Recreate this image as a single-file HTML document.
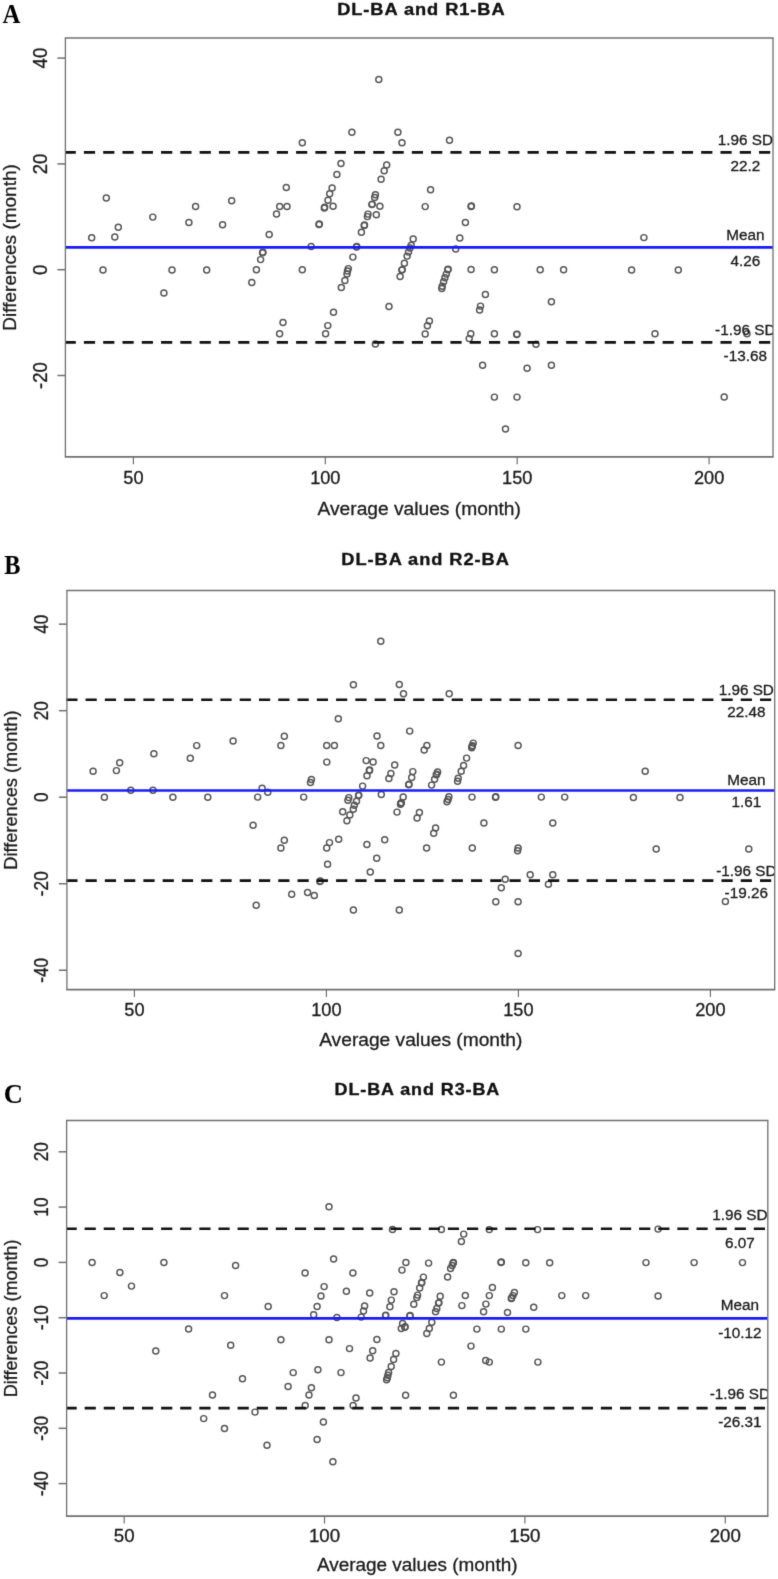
<!DOCTYPE html><html><head><meta charset="utf-8"><title>Bland-Altman plots</title><style>html,body{margin:0;padding:0;background:#fff;}svg{display:block;}text{font-family:'Liberation Sans', sans-serif;}</style></head><body>
<svg width="778" height="1579" viewBox="0 0 778 1579">
<defs><filter id="soft" x="0" y="0" width="100%" height="100%" filterUnits="userSpaceOnUse" color-interpolation-filters="sRGB"><feConvolveMatrix order="3" kernelMatrix="0.01134 0.08382 0.01134 0.08382 0.61935 0.08382 0.01134 0.08382 0.01134" divisor="1" edgeMode="duplicate" preserveAlpha="false"/></filter></defs>
<rect width="778" height="1579" fill="#fff"/>
<g filter="url(#soft)">
<clipPath id="c0"><rect x="65.4" y="38" width="707.6" height="418.8"/></clipPath>
<text transform="translate(2.4,22.8) scale(0.92,1)" style="font-family:'Liberation Serif',serif;font-weight:bold;font-size:27px" fill="#000">A</text>
<text transform="translate(338,15.2) scale(1.1,1)" x="-0.8" y="0" style="font-weight:bold;font-size:16.6px;letter-spacing:0.85px" fill="#111" stroke="#111" stroke-width="0.35">DL-BA and R1-BA</text>
<g fill="none" stroke="#555" stroke-width="1.45" clip-path="url(#c0)">
<circle cx="106.3" cy="197.9" r="3.0"/>
<circle cx="91.7" cy="237.7" r="3.0"/>
<circle cx="118.3" cy="227.3" r="3.0"/>
<circle cx="114.8" cy="237" r="3.0"/>
<circle cx="103" cy="269.9" r="3.0"/>
<circle cx="152.8" cy="217.1" r="3.0"/>
<circle cx="188.9" cy="222.4" r="3.0"/>
<circle cx="195.6" cy="206.5" r="3.0"/>
<circle cx="222.6" cy="224.7" r="3.0"/>
<circle cx="231.7" cy="200.7" r="3.0"/>
<circle cx="172" cy="269.9" r="3.0"/>
<circle cx="206.7" cy="269.9" r="3.0"/>
<circle cx="163.9" cy="293" r="3.0"/>
<circle cx="378.8" cy="79.4" r="3.0"/>
<circle cx="351.9" cy="132.2" r="3.0"/>
<circle cx="302.3" cy="142.7" r="3.0"/>
<circle cx="341" cy="163.5" r="3.0"/>
<circle cx="336.9" cy="174.5" r="3.0"/>
<circle cx="286.3" cy="187.5" r="3.0"/>
<circle cx="332.1" cy="188" r="3.0"/>
<circle cx="329.7" cy="193.8" r="3.0"/>
<circle cx="328" cy="200.2" r="3.0"/>
<circle cx="324.7" cy="207.3" r="3.0"/>
<circle cx="324.3" cy="207.9" r="3.0"/>
<circle cx="333.1" cy="206.3" r="3.0"/>
<circle cx="319.3" cy="224" r="3.0"/>
<circle cx="319" cy="224.5" r="3.0"/>
<circle cx="279.7" cy="206.5" r="3.0"/>
<circle cx="287" cy="206.5" r="3.0"/>
<circle cx="276.5" cy="213.9" r="3.0"/>
<circle cx="269.2" cy="234.4" r="3.0"/>
<circle cx="262.9" cy="252.3" r="3.0"/>
<circle cx="262.6" cy="252.8" r="3.0"/>
<circle cx="260.6" cy="259.6" r="3.0"/>
<circle cx="256.4" cy="269.7" r="3.0"/>
<circle cx="251.8" cy="282.5" r="3.0"/>
<circle cx="311.1" cy="246.4" r="3.0"/>
<circle cx="302.3" cy="269.7" r="3.0"/>
<circle cx="356.8" cy="246.4" r="3.0"/>
<circle cx="356.5" cy="246.9" r="3.0"/>
<circle cx="361.4" cy="232.2" r="3.0"/>
<circle cx="352.9" cy="257.1" r="3.0"/>
<circle cx="348.3" cy="268.6" r="3.0"/>
<circle cx="347.5" cy="270.9" r="3.0"/>
<circle cx="347" cy="274" r="3.0"/>
<circle cx="344.9" cy="280.4" r="3.0"/>
<circle cx="341.3" cy="287.4" r="3.0"/>
<circle cx="333.5" cy="312.2" r="3.0"/>
<circle cx="283" cy="322.5" r="3.0"/>
<circle cx="327.8" cy="325.6" r="3.0"/>
<circle cx="279.6" cy="333.8" r="3.0"/>
<circle cx="325.6" cy="333.8" r="3.0"/>
<circle cx="397.9" cy="132.2" r="3.0"/>
<circle cx="402" cy="142.8" r="3.0"/>
<circle cx="449.5" cy="140.2" r="3.0"/>
<circle cx="386.7" cy="164.9" r="3.0"/>
<circle cx="384.2" cy="170.8" r="3.0"/>
<circle cx="381.1" cy="179.2" r="3.0"/>
<circle cx="375.4" cy="194.8" r="3.0"/>
<circle cx="374.7" cy="197.4" r="3.0"/>
<circle cx="372.2" cy="204.1" r="3.0"/>
<circle cx="371.9" cy="204.6" r="3.0"/>
<circle cx="379.9" cy="206.3" r="3.0"/>
<circle cx="376.3" cy="214.7" r="3.0"/>
<circle cx="368" cy="214.1" r="3.0"/>
<circle cx="367.4" cy="216.6" r="3.0"/>
<circle cx="364.5" cy="225" r="3.0"/>
<circle cx="364.2" cy="225.5" r="3.0"/>
<circle cx="430.6" cy="189.7" r="3.0"/>
<circle cx="425.2" cy="206.6" r="3.0"/>
<circle cx="471.4" cy="205.9" r="3.0"/>
<circle cx="471.1" cy="206.4" r="3.0"/>
<circle cx="465.4" cy="222.4" r="3.0"/>
<circle cx="459.8" cy="237.9" r="3.0"/>
<circle cx="455.7" cy="248.9" r="3.0"/>
<circle cx="413.2" cy="239" r="3.0"/>
<circle cx="411.2" cy="245.3" r="3.0"/>
<circle cx="410" cy="248" r="3.0"/>
<circle cx="408.5" cy="252.1" r="3.0"/>
<circle cx="407.1" cy="256.1" r="3.0"/>
<circle cx="404.4" cy="263.3" r="3.0"/>
<circle cx="402.2" cy="269.6" r="3.0"/>
<circle cx="401.9" cy="270.1" r="3.0"/>
<circle cx="400.1" cy="276.4" r="3.0"/>
<circle cx="448.1" cy="269.2" r="3.0"/>
<circle cx="447.8" cy="269.7" r="3.0"/>
<circle cx="446.3" cy="274.1" r="3.0"/>
<circle cx="444.9" cy="277.7" r="3.0"/>
<circle cx="443.6" cy="281.8" r="3.0"/>
<circle cx="442.2" cy="286.3" r="3.0"/>
<circle cx="441.8" cy="288.5" r="3.0"/>
<circle cx="471.1" cy="269.5" r="3.0"/>
<circle cx="389" cy="306.5" r="3.0"/>
<circle cx="429.4" cy="320.9" r="3.0"/>
<circle cx="427.4" cy="325.8" r="3.0"/>
<circle cx="425.2" cy="334" r="3.0"/>
<circle cx="375.4" cy="344" r="3.0"/>
<circle cx="470.8" cy="333.7" r="3.0"/>
<circle cx="469.2" cy="338.6" r="3.0"/>
<circle cx="480.5" cy="306.1" r="3.0"/>
<circle cx="479.6" cy="309.9" r="3.0"/>
<circle cx="517" cy="206.7" r="3.0"/>
<circle cx="494.4" cy="269.7" r="3.0"/>
<circle cx="540.2" cy="269.7" r="3.0"/>
<circle cx="563.6" cy="269.7" r="3.0"/>
<circle cx="485.4" cy="294.5" r="3.0"/>
<circle cx="551.4" cy="301.8" r="3.0"/>
<circle cx="494.4" cy="333.8" r="3.0"/>
<circle cx="517" cy="334.1" r="3.0"/>
<circle cx="516.7" cy="334.5" r="3.0"/>
<circle cx="536" cy="344.3" r="3.0"/>
<circle cx="482.6" cy="365.2" r="3.0"/>
<circle cx="527.1" cy="368.3" r="3.0"/>
<circle cx="551.4" cy="365.2" r="3.0"/>
<circle cx="494.4" cy="397.1" r="3.0"/>
<circle cx="517" cy="397.1" r="3.0"/>
<circle cx="505.5" cy="429" r="3.0"/>
<circle cx="643.9" cy="237.6" r="3.0"/>
<circle cx="631.6" cy="270" r="3.0"/>
<circle cx="678.3" cy="270" r="3.0"/>
<circle cx="655" cy="333.8" r="3.0"/>
<circle cx="747" cy="333.8" r="3.0"/>
<circle cx="724.2" cy="397" r="3.0"/>
</g>
<line x1="64.6" y1="152.35" x2="773" y2="152.35" stroke="#111" stroke-width="2.7" stroke-dasharray="11.2 8.09" clip-path="url(#c0)"/>
<g clip-path="url(#c0)"><text transform="translate(745.3,144.75) scale(1,1.0)" text-anchor="middle" style="font-size:15.3px" fill="#1a1a1a" stroke="#1a1a1a" stroke-width="0.3">1.96 SD</text></g>
<g clip-path="url(#c0)"><text transform="translate(745.3,171.15) scale(1,1.0)" text-anchor="middle" style="font-size:15.3px" fill="#1a1a1a" stroke="#1a1a1a" stroke-width="0.3">22.2</text></g>
<line x1="65.4" y1="247.4" x2="773" y2="247.4" stroke="#1a1aff" stroke-width="2.6"/>
<g clip-path="url(#c0)"><text transform="translate(745.3,239.8) scale(1,1.0)" text-anchor="middle" style="font-size:15.3px" fill="#1a1a1a" stroke="#1a1a1a" stroke-width="0.3">Mean</text></g>
<g clip-path="url(#c0)"><text transform="translate(745.3,266.2) scale(1,1.0)" text-anchor="middle" style="font-size:15.3px" fill="#1a1a1a" stroke="#1a1a1a" stroke-width="0.3">4.26</text></g>
<line x1="64.6" y1="342.4" x2="773" y2="342.4" stroke="#111" stroke-width="2.7" stroke-dasharray="11.2 8.09" clip-path="url(#c0)"/>
<g clip-path="url(#c0)"><text transform="translate(745.3,334.8) scale(1,1.0)" text-anchor="middle" style="font-size:15.3px" fill="#1a1a1a" stroke="#1a1a1a" stroke-width="0.3">-1.96 SD</text></g>
<g clip-path="url(#c0)"><text transform="translate(745.3,361.2) scale(1,1.0)" text-anchor="middle" style="font-size:15.3px" fill="#1a1a1a" stroke="#1a1a1a" stroke-width="0.3">-13.68</text></g>
<g stroke="#707070" fill="none">
<line x1="64.8" y1="38" x2="773.6" y2="38" stroke-width="1.7"/>
<line x1="64.8" y1="456.8" x2="773.6" y2="456.8" stroke-width="1.7"/>
<line x1="65.4" y1="38" x2="65.4" y2="456.8" stroke-width="1.3"/>
<line x1="773" y1="38" x2="773" y2="456.8" stroke-width="1.3"/>
<line x1="57.4" y1="58.1" x2="65.4" y2="58.1" stroke-width="1.5"/>
<line x1="57.4" y1="163.9" x2="65.4" y2="163.9" stroke-width="1.5"/>
<line x1="57.4" y1="269.7" x2="65.4" y2="269.7" stroke-width="1.5"/>
<line x1="57.4" y1="375.5" x2="65.4" y2="375.5" stroke-width="1.5"/>
<line x1="133.4" y1="456.8" x2="133.4" y2="464.3" stroke-width="1.2"/>
<line x1="325.3" y1="456.8" x2="325.3" y2="464.3" stroke-width="1.2"/>
<line x1="517.2" y1="456.8" x2="517.2" y2="464.3" stroke-width="1.2"/>
<line x1="709.1" y1="456.8" x2="709.1" y2="464.3" stroke-width="1.2"/>
</g>
<text transform="translate(46.9,58.1) rotate(-90) scale(1.04,1.08)" text-anchor="middle" style="font-size:17.9px" fill="#1a1a1a" stroke="#1a1a1a" stroke-width="0.3">40</text>
<text transform="translate(46.9,163.9) rotate(-90) scale(1.04,1.08)" text-anchor="middle" style="font-size:17.9px" fill="#1a1a1a" stroke="#1a1a1a" stroke-width="0.3">20</text>
<text transform="translate(46.9,269.7) rotate(-90) scale(1.04,1.08)" text-anchor="middle" style="font-size:17.9px" fill="#1a1a1a" stroke="#1a1a1a" stroke-width="0.3">0</text>
<text transform="translate(46.9,375.5) rotate(-90) scale(1.04,1.08)" text-anchor="middle" style="font-size:17.9px" fill="#1a1a1a" stroke="#1a1a1a" stroke-width="0.3">-20</text>
<text transform="translate(133.4,484.2) scale(1,1.0)" text-anchor="middle" style="font-size:18.2px" fill="#1a1a1a" stroke="#1a1a1a" stroke-width="0.3">50</text>
<text transform="translate(325.3,484.2) scale(1,1.0)" text-anchor="middle" style="font-size:18.2px" fill="#1a1a1a" stroke="#1a1a1a" stroke-width="0.3">100</text>
<text transform="translate(517.2,484.2) scale(1,1.0)" text-anchor="middle" style="font-size:18.2px" fill="#1a1a1a" stroke="#1a1a1a" stroke-width="0.3">150</text>
<text transform="translate(709.1,484.2) scale(1,1.0)" text-anchor="middle" style="font-size:18.2px" fill="#1a1a1a" stroke="#1a1a1a" stroke-width="0.3">200</text>
<text transform="translate(419.2,515.4) scale(1.0,1.0)" text-anchor="middle" style="font-size:19.2px" fill="#1a1a1a" stroke="#1a1a1a" stroke-width="0.3">Average values (month)</text>
<text transform="translate(15.6,247.4) rotate(-90) scale(1.0,1)" text-anchor="middle" style="font-size:19px" fill="#1a1a1a" stroke="#1a1a1a" stroke-width="0.3">Differences (month)</text>
<clipPath id="c1"><rect x="66.9" y="590.5" width="707.8" height="399.1"/></clipPath>
<text transform="translate(4.3,573.6) scale(0.9,1)" style="font-family:'Liberation Serif',serif;font-weight:bold;font-size:27px" fill="#000">B</text>
<text transform="translate(342.2,564.7) scale(1.1,1)" x="-0.8" y="0" style="font-weight:bold;font-size:16.6px;letter-spacing:0.85px" fill="#111" stroke="#111" stroke-width="0.35">DL-BA and R2-BA</text>
<g fill="none" stroke="#555" stroke-width="1.45" clip-path="url(#c1)">
<circle cx="93.1" cy="771.3" r="3.0"/>
<circle cx="104.4" cy="797.2" r="3.0"/>
<circle cx="119.7" cy="762.7" r="3.0"/>
<circle cx="116.4" cy="770.6" r="3.0"/>
<circle cx="130.8" cy="790.2" r="3.0"/>
<circle cx="153.9" cy="753.7" r="3.0"/>
<circle cx="153" cy="790.2" r="3.0"/>
<circle cx="172.9" cy="797.2" r="3.0"/>
<circle cx="190.3" cy="758.3" r="3.0"/>
<circle cx="196.7" cy="745.6" r="3.0"/>
<circle cx="207.8" cy="797.2" r="3.0"/>
<circle cx="233.1" cy="741" r="3.0"/>
<circle cx="353.4" cy="684.8" r="3.0"/>
<circle cx="338.3" cy="718.7" r="3.0"/>
<circle cx="284.3" cy="736.2" r="3.0"/>
<circle cx="280.9" cy="745.4" r="3.0"/>
<circle cx="326.7" cy="745.4" r="3.0"/>
<circle cx="334.4" cy="745.4" r="3.0"/>
<circle cx="326.8" cy="762.1" r="3.0"/>
<circle cx="311.4" cy="779.4" r="3.0"/>
<circle cx="310.5" cy="782.4" r="3.0"/>
<circle cx="262.1" cy="788.3" r="3.0"/>
<circle cx="267.8" cy="792.2" r="3.0"/>
<circle cx="257.7" cy="797.1" r="3.0"/>
<circle cx="303.7" cy="797.1" r="3.0"/>
<circle cx="253.1" cy="825.3" r="3.0"/>
<circle cx="284.3" cy="840.3" r="3.0"/>
<circle cx="280.9" cy="848" r="3.0"/>
<circle cx="329.5" cy="842.6" r="3.0"/>
<circle cx="326.7" cy="848" r="3.0"/>
<circle cx="338.7" cy="839.2" r="3.0"/>
<circle cx="373.1" cy="761.9" r="3.0"/>
<circle cx="366.2" cy="760.6" r="3.0"/>
<circle cx="369.6" cy="770" r="3.0"/>
<circle cx="369.3" cy="770.5" r="3.0"/>
<circle cx="367" cy="775.8" r="3.0"/>
<circle cx="362.6" cy="786.1" r="3.0"/>
<circle cx="358.8" cy="795.1" r="3.0"/>
<circle cx="358.5" cy="795.6" r="3.0"/>
<circle cx="356.5" cy="801.2" r="3.0"/>
<circle cx="354.3" cy="805.3" r="3.0"/>
<circle cx="353.3" cy="809.2" r="3.0"/>
<circle cx="349.8" cy="815" r="3.0"/>
<circle cx="348.8" cy="797.6" r="3.0"/>
<circle cx="347.9" cy="800.2" r="3.0"/>
<circle cx="342.7" cy="811.8" r="3.0"/>
<circle cx="346.9" cy="820.8" r="3.0"/>
<circle cx="381.3" cy="794.4" r="3.0"/>
<circle cx="380.8" cy="641.3" r="3.0"/>
<circle cx="399.3" cy="684.5" r="3.0"/>
<circle cx="403.5" cy="693.7" r="3.0"/>
<circle cx="449.2" cy="693.7" r="3.0"/>
<circle cx="377" cy="736" r="3.0"/>
<circle cx="409.7" cy="731.1" r="3.0"/>
<circle cx="380.8" cy="745.4" r="3.0"/>
<circle cx="426.9" cy="745.4" r="3.0"/>
<circle cx="424.2" cy="750" r="3.0"/>
<circle cx="473.2" cy="743.1" r="3.0"/>
<circle cx="472.4" cy="745.8" r="3.0"/>
<circle cx="472.1" cy="746.3" r="3.0"/>
<circle cx="471.7" cy="747.7" r="3.0"/>
<circle cx="394.7" cy="765" r="3.0"/>
<circle cx="390.9" cy="773.5" r="3.0"/>
<circle cx="388.9" cy="778.5" r="3.0"/>
<circle cx="412.8" cy="771.6" r="3.0"/>
<circle cx="411.7" cy="777.4" r="3.0"/>
<circle cx="409" cy="784.3" r="3.0"/>
<circle cx="408.7" cy="784.8" r="3.0"/>
<circle cx="403.2" cy="797" r="3.0"/>
<circle cx="401.3" cy="802.8" r="3.0"/>
<circle cx="401" cy="803.3" r="3.0"/>
<circle cx="400.5" cy="804.3" r="3.0"/>
<circle cx="397" cy="812.1" r="3.0"/>
<circle cx="437.6" cy="772" r="3.0"/>
<circle cx="436.6" cy="774.3" r="3.0"/>
<circle cx="436.3" cy="774.8" r="3.0"/>
<circle cx="434.6" cy="779.3" r="3.0"/>
<circle cx="431.6" cy="785.1" r="3.0"/>
<circle cx="466.6" cy="758.1" r="3.0"/>
<circle cx="463.6" cy="765.5" r="3.0"/>
<circle cx="461.2" cy="771.2" r="3.0"/>
<circle cx="458.2" cy="778.2" r="3.0"/>
<circle cx="457.6" cy="781.3" r="3.0"/>
<circle cx="448.9" cy="796.7" r="3.0"/>
<circle cx="448.1" cy="799.4" r="3.0"/>
<circle cx="447" cy="801.7" r="3.0"/>
<circle cx="472" cy="797.1" r="3.0"/>
<circle cx="419.4" cy="812.5" r="3.0"/>
<circle cx="417.1" cy="817.9" r="3.0"/>
<circle cx="435.6" cy="827.9" r="3.0"/>
<circle cx="433.7" cy="833.3" r="3.0"/>
<circle cx="384.7" cy="839.8" r="3.0"/>
<circle cx="366.9" cy="844.5" r="3.0"/>
<circle cx="426.6" cy="848" r="3.0"/>
<circle cx="472.3" cy="848" r="3.0"/>
<circle cx="518.1" cy="745.4" r="3.0"/>
<circle cx="495.8" cy="796.8" r="3.0"/>
<circle cx="495.5" cy="797.3" r="3.0"/>
<circle cx="541.3" cy="797.1" r="3.0"/>
<circle cx="564.7" cy="797.1" r="3.0"/>
<circle cx="483.9" cy="823" r="3.0"/>
<circle cx="552.8" cy="823" r="3.0"/>
<circle cx="518.1" cy="848" r="3.0"/>
<circle cx="517.6" cy="850.8" r="3.0"/>
<circle cx="530.2" cy="874.7" r="3.0"/>
<circle cx="552.8" cy="874.7" r="3.0"/>
<circle cx="505.2" cy="879.3" r="3.0"/>
<circle cx="501.3" cy="887.8" r="3.0"/>
<circle cx="548.4" cy="884.3" r="3.0"/>
<circle cx="495.8" cy="901.7" r="3.0"/>
<circle cx="518.1" cy="901.7" r="3.0"/>
<circle cx="518.1" cy="953.4" r="3.0"/>
<circle cx="376.7" cy="858.2" r="3.0"/>
<circle cx="370.3" cy="871.9" r="3.0"/>
<circle cx="399.3" cy="909.9" r="3.0"/>
<circle cx="327.6" cy="864.2" r="3.0"/>
<circle cx="320.2" cy="880.9" r="3.0"/>
<circle cx="319.9" cy="881.4" r="3.0"/>
<circle cx="291.7" cy="894.3" r="3.0"/>
<circle cx="307.6" cy="892.4" r="3.0"/>
<circle cx="314.3" cy="895.5" r="3.0"/>
<circle cx="256.2" cy="905.2" r="3.0"/>
<circle cx="353.4" cy="909.9" r="3.0"/>
<circle cx="645.2" cy="771.3" r="3.0"/>
<circle cx="633.4" cy="797.4" r="3.0"/>
<circle cx="680" cy="797.4" r="3.0"/>
<circle cx="656.2" cy="848.9" r="3.0"/>
<circle cx="748.8" cy="848.9" r="3.0"/>
<circle cx="725.4" cy="901.4" r="3.0"/>
</g>
<line x1="66.3" y1="699.75" x2="774.7" y2="699.75" stroke="#111" stroke-width="2.7" stroke-dasharray="11.2 8.07" clip-path="url(#c1)"/>
<g clip-path="url(#c1)"><text transform="translate(746.3,694.65) scale(1,0.96)" text-anchor="middle" style="font-size:15.3px" fill="#1a1a1a" stroke="#1a1a1a" stroke-width="0.3">1.96 SD</text></g>
<g clip-path="url(#c1)"><text transform="translate(746.3,716.65) scale(1,0.96)" text-anchor="middle" style="font-size:15.3px" fill="#1a1a1a" stroke="#1a1a1a" stroke-width="0.3">22.48</text></g>
<line x1="66.9" y1="790.5" x2="774.7" y2="790.5" stroke="#1a1aff" stroke-width="2.6"/>
<g clip-path="url(#c1)"><text transform="translate(746.3,785.4) scale(1,0.96)" text-anchor="middle" style="font-size:15.3px" fill="#1a1a1a" stroke="#1a1a1a" stroke-width="0.3">Mean</text></g>
<g clip-path="url(#c1)"><text transform="translate(746.3,807.4) scale(1,0.96)" text-anchor="middle" style="font-size:15.3px" fill="#1a1a1a" stroke="#1a1a1a" stroke-width="0.3">1.61</text></g>
<line x1="66.3" y1="880.7" x2="774.7" y2="880.7" stroke="#111" stroke-width="2.7" stroke-dasharray="11.2 8.07" clip-path="url(#c1)"/>
<g clip-path="url(#c1)"><text transform="translate(746.3,875.6) scale(1,0.96)" text-anchor="middle" style="font-size:15.3px" fill="#1a1a1a" stroke="#1a1a1a" stroke-width="0.3">-1.96 SD</text></g>
<g clip-path="url(#c1)"><text transform="translate(746.3,897.6) scale(1,0.96)" text-anchor="middle" style="font-size:15.3px" fill="#1a1a1a" stroke="#1a1a1a" stroke-width="0.3">-19.26</text></g>
<g stroke="#707070" fill="none">
<line x1="66.3" y1="590.5" x2="775.3" y2="590.5" stroke-width="1.7"/>
<line x1="66.3" y1="989.6" x2="775.3" y2="989.6" stroke-width="1.7"/>
<line x1="66.9" y1="590.5" x2="66.9" y2="989.6" stroke-width="1.3"/>
<line x1="774.7" y1="590.5" x2="774.7" y2="989.6" stroke-width="1.3"/>
<line x1="58.9" y1="624.16" x2="66.9" y2="624.16" stroke-width="1.5"/>
<line x1="58.9" y1="710.68" x2="66.9" y2="710.68" stroke-width="1.5"/>
<line x1="58.9" y1="797.2" x2="66.9" y2="797.2" stroke-width="1.5"/>
<line x1="58.9" y1="883.72" x2="66.9" y2="883.72" stroke-width="1.5"/>
<line x1="58.9" y1="970.24" x2="66.9" y2="970.24" stroke-width="1.5"/>
<line x1="134.4" y1="989.6" x2="134.4" y2="997.1" stroke-width="1.2"/>
<line x1="326.4" y1="989.6" x2="326.4" y2="997.1" stroke-width="1.2"/>
<line x1="518.4" y1="989.6" x2="518.4" y2="997.1" stroke-width="1.2"/>
<line x1="710.4" y1="989.6" x2="710.4" y2="997.1" stroke-width="1.2"/>
</g>
<text transform="translate(48.4,624.16) rotate(-90) scale(0.96,1.08)" text-anchor="middle" style="font-size:17.9px" fill="#1a1a1a" stroke="#1a1a1a" stroke-width="0.3">40</text>
<text transform="translate(48.4,710.68) rotate(-90) scale(0.96,1.08)" text-anchor="middle" style="font-size:17.9px" fill="#1a1a1a" stroke="#1a1a1a" stroke-width="0.3">20</text>
<text transform="translate(48.4,797.2) rotate(-90) scale(0.96,1.08)" text-anchor="middle" style="font-size:17.9px" fill="#1a1a1a" stroke="#1a1a1a" stroke-width="0.3">0</text>
<text transform="translate(48.4,883.72) rotate(-90) scale(0.96,1.08)" text-anchor="middle" style="font-size:17.9px" fill="#1a1a1a" stroke="#1a1a1a" stroke-width="0.3">-20</text>
<text transform="translate(48.4,970.24) rotate(-90) scale(0.96,1.08)" text-anchor="middle" style="font-size:17.9px" fill="#1a1a1a" stroke="#1a1a1a" stroke-width="0.3">-40</text>
<text transform="translate(134.4,1016) scale(1,0.96)" text-anchor="middle" style="font-size:18.2px" fill="#1a1a1a" stroke="#1a1a1a" stroke-width="0.3">50</text>
<text transform="translate(326.4,1016) scale(1,0.96)" text-anchor="middle" style="font-size:18.2px" fill="#1a1a1a" stroke="#1a1a1a" stroke-width="0.3">100</text>
<text transform="translate(518.4,1016) scale(1,0.96)" text-anchor="middle" style="font-size:18.2px" fill="#1a1a1a" stroke="#1a1a1a" stroke-width="0.3">150</text>
<text transform="translate(710.4,1016) scale(1,0.96)" text-anchor="middle" style="font-size:18.2px" fill="#1a1a1a" stroke="#1a1a1a" stroke-width="0.3">200</text>
<text transform="translate(420.8,1045.9) scale(1.0,0.96)" text-anchor="middle" style="font-size:19.2px" fill="#1a1a1a" stroke="#1a1a1a" stroke-width="0.3">Average values (month)</text>
<text transform="translate(17,790.05) rotate(-90) scale(0.957,1)" text-anchor="middle" style="font-size:19px" fill="#1a1a1a" stroke="#1a1a1a" stroke-width="0.3">Differences (month)</text>
<clipPath id="c2"><rect x="66.6" y="1120.5" width="701.2" height="395.6"/></clipPath>
<text transform="translate(3.8,1103.3) scale(0.98,1)" style="font-family:'Liberation Serif',serif;font-weight:bold;font-size:27px" fill="#000">C</text>
<text transform="translate(335.4,1094.5) scale(1.082,1)" x="-0.8" y="0" style="font-weight:bold;font-size:16.6px;letter-spacing:0.85px" fill="#111" stroke="#111" stroke-width="0.35">DL-BA and R3-BA</text>
<g fill="none" stroke="#555" stroke-width="1.45" clip-path="url(#c2)">
<circle cx="92.1" cy="1262.5" r="3.0"/>
<circle cx="104.2" cy="1295.6" r="3.0"/>
<circle cx="119.9" cy="1272.4" r="3.0"/>
<circle cx="131.5" cy="1286.1" r="3.0"/>
<circle cx="163.9" cy="1262.5" r="3.0"/>
<circle cx="188.6" cy="1328.9" r="3.0"/>
<circle cx="155.8" cy="1350.9" r="3.0"/>
<circle cx="224.5" cy="1295.6" r="3.0"/>
<circle cx="235.6" cy="1265.5" r="3.0"/>
<circle cx="230.7" cy="1345.3" r="3.0"/>
<circle cx="242.5" cy="1378.8" r="3.0"/>
<circle cx="212.5" cy="1395" r="3.0"/>
<circle cx="203.7" cy="1418.6" r="3.0"/>
<circle cx="224.5" cy="1428.5" r="3.0"/>
<circle cx="329" cy="1206.7" r="3.0"/>
<circle cx="333.6" cy="1259" r="3.0"/>
<circle cx="305.1" cy="1273" r="3.0"/>
<circle cx="352.9" cy="1273" r="3.0"/>
<circle cx="324.1" cy="1286.6" r="3.0"/>
<circle cx="346.4" cy="1291.3" r="3.0"/>
<circle cx="321" cy="1295.9" r="3.0"/>
<circle cx="317.1" cy="1306.5" r="3.0"/>
<circle cx="313.7" cy="1314.7" r="3.0"/>
<circle cx="268.2" cy="1306.5" r="3.0"/>
<circle cx="336.9" cy="1317.5" r="3.0"/>
<circle cx="280.9" cy="1339.7" r="3.0"/>
<circle cx="329" cy="1339.7" r="3.0"/>
<circle cx="349.5" cy="1348.6" r="3.0"/>
<circle cx="293.2" cy="1372.6" r="3.0"/>
<circle cx="317.9" cy="1369.8" r="3.0"/>
<circle cx="341" cy="1372.6" r="3.0"/>
<circle cx="288.1" cy="1386.4" r="3.0"/>
<circle cx="311.4" cy="1387.7" r="3.0"/>
<circle cx="309" cy="1394.9" r="3.0"/>
<circle cx="356" cy="1398" r="3.0"/>
<circle cx="305.2" cy="1405.4" r="3.0"/>
<circle cx="353.1" cy="1405.4" r="3.0"/>
<circle cx="255" cy="1412.1" r="3.0"/>
<circle cx="323.4" cy="1421.9" r="3.0"/>
<circle cx="317.1" cy="1439.4" r="3.0"/>
<circle cx="267" cy="1445.2" r="3.0"/>
<circle cx="332.9" cy="1461.7" r="3.0"/>
<circle cx="461.4" cy="1241.5" r="3.0"/>
<circle cx="405.9" cy="1262.4" r="3.0"/>
<circle cx="402" cy="1270.1" r="3.0"/>
<circle cx="428.6" cy="1263.1" r="3.0"/>
<circle cx="453.4" cy="1262.4" r="3.0"/>
<circle cx="453.1" cy="1262.9" r="3.0"/>
<circle cx="452.2" cy="1265.5" r="3.0"/>
<circle cx="450.6" cy="1268.5" r="3.0"/>
<circle cx="447.6" cy="1277" r="3.0"/>
<circle cx="369.7" cy="1292.9" r="3.0"/>
<circle cx="364.6" cy="1306" r="3.0"/>
<circle cx="363.5" cy="1311" r="3.0"/>
<circle cx="361.2" cy="1317.1" r="3.0"/>
<circle cx="394" cy="1291.7" r="3.0"/>
<circle cx="391.3" cy="1300.1" r="3.0"/>
<circle cx="389.9" cy="1306.8" r="3.0"/>
<circle cx="385.8" cy="1315.1" r="3.0"/>
<circle cx="385.5" cy="1315.6" r="3.0"/>
<circle cx="423.4" cy="1277.1" r="3.0"/>
<circle cx="421.8" cy="1282.5" r="3.0"/>
<circle cx="421.5" cy="1283" r="3.0"/>
<circle cx="419.7" cy="1288" r="3.0"/>
<circle cx="417.6" cy="1295.1" r="3.0"/>
<circle cx="416.8" cy="1297.6" r="3.0"/>
<circle cx="413.8" cy="1304.3" r="3.0"/>
<circle cx="410.1" cy="1315.5" r="3.0"/>
<circle cx="409.8" cy="1316" r="3.0"/>
<circle cx="402.6" cy="1323.5" r="3.0"/>
<circle cx="405.1" cy="1326.8" r="3.0"/>
<circle cx="404.8" cy="1327.3" r="3.0"/>
<circle cx="401.3" cy="1328.5" r="3.0"/>
<circle cx="440.2" cy="1296.3" r="3.0"/>
<circle cx="438.9" cy="1302.6" r="3.0"/>
<circle cx="438.6" cy="1303.1" r="3.0"/>
<circle cx="436.8" cy="1308.4" r="3.0"/>
<circle cx="435.6" cy="1311.8" r="3.0"/>
<circle cx="431.8" cy="1322.2" r="3.0"/>
<circle cx="429.3" cy="1328.5" r="3.0"/>
<circle cx="426.8" cy="1333.5" r="3.0"/>
<circle cx="465.3" cy="1295.5" r="3.0"/>
<circle cx="461.9" cy="1305.6" r="3.0"/>
<circle cx="376.9" cy="1339.5" r="3.0"/>
<circle cx="372.7" cy="1350.8" r="3.0"/>
<circle cx="370.1" cy="1358" r="3.0"/>
<circle cx="395.9" cy="1353.5" r="3.0"/>
<circle cx="393.6" cy="1359.5" r="3.0"/>
<circle cx="391.2" cy="1366.5" r="3.0"/>
<circle cx="388.6" cy="1372.4" r="3.0"/>
<circle cx="387.9" cy="1375.2" r="3.0"/>
<circle cx="387.4" cy="1377.8" r="3.0"/>
<circle cx="386.6" cy="1379.8" r="3.0"/>
<circle cx="471" cy="1346.1" r="3.0"/>
<circle cx="441.4" cy="1362.1" r="3.0"/>
<circle cx="405.6" cy="1395.2" r="3.0"/>
<circle cx="453.4" cy="1395.2" r="3.0"/>
<circle cx="392.5" cy="1229.4" r="3.0"/>
<circle cx="441.4" cy="1229.4" r="3.0"/>
<circle cx="463.7" cy="1234.1" r="3.0"/>
<circle cx="489.3" cy="1229.6" r="3.0"/>
<circle cx="537.6" cy="1229.6" r="3.0"/>
<circle cx="501.3" cy="1262" r="3.0"/>
<circle cx="501" cy="1262.5" r="3.0"/>
<circle cx="525.8" cy="1262.7" r="3.0"/>
<circle cx="549.7" cy="1262.7" r="3.0"/>
<circle cx="492.4" cy="1287.4" r="3.0"/>
<circle cx="489.3" cy="1295.6" r="3.0"/>
<circle cx="485.9" cy="1304.1" r="3.0"/>
<circle cx="483.6" cy="1311.8" r="3.0"/>
<circle cx="514.4" cy="1292.5" r="3.0"/>
<circle cx="512.9" cy="1295.6" r="3.0"/>
<circle cx="511.6" cy="1297.9" r="3.0"/>
<circle cx="511.3" cy="1298.4" r="3.0"/>
<circle cx="507.5" cy="1312.5" r="3.0"/>
<circle cx="533.7" cy="1307.2" r="3.0"/>
<circle cx="561.8" cy="1295.6" r="3.0"/>
<circle cx="585.7" cy="1295.6" r="3.0"/>
<circle cx="476.9" cy="1329.1" r="3.0"/>
<circle cx="501.3" cy="1329.1" r="3.0"/>
<circle cx="525.8" cy="1329.1" r="3.0"/>
<circle cx="485.7" cy="1360.5" r="3.0"/>
<circle cx="489.3" cy="1362.1" r="3.0"/>
<circle cx="537.9" cy="1362.1" r="3.0"/>
<circle cx="658.1" cy="1229.1" r="3.0"/>
<circle cx="646" cy="1262.6" r="3.0"/>
<circle cx="694.1" cy="1262.6" r="3.0"/>
<circle cx="742.5" cy="1262.6" r="3.0"/>
<circle cx="658.1" cy="1295.9" r="3.0"/>
</g>
<line x1="65.5" y1="1228.75" x2="767.8" y2="1228.75" stroke="#111" stroke-width="2.7" stroke-dasharray="11.2 7.92" clip-path="url(#c2)"/>
<g clip-path="url(#c2)"><text transform="translate(739.9,1220.05) scale(1,1.0)" text-anchor="middle" style="font-size:15.3px" fill="#1a1a1a" stroke="#1a1a1a" stroke-width="0.3">1.96 SD</text></g>
<g clip-path="url(#c2)"><text transform="translate(739.9,1247.95) scale(1,1.0)" text-anchor="middle" style="font-size:15.3px" fill="#1a1a1a" stroke="#1a1a1a" stroke-width="0.3">6.07</text></g>
<line x1="66.6" y1="1318.35" x2="767.8" y2="1318.35" stroke="#1a1aff" stroke-width="2.6"/>
<g clip-path="url(#c2)"><text transform="translate(739.9,1309.65) scale(1,1.0)" text-anchor="middle" style="font-size:15.3px" fill="#1a1a1a" stroke="#1a1a1a" stroke-width="0.3">Mean</text></g>
<g clip-path="url(#c2)"><text transform="translate(739.9,1337.55) scale(1,1.0)" text-anchor="middle" style="font-size:15.3px" fill="#1a1a1a" stroke="#1a1a1a" stroke-width="0.3">-10.12</text></g>
<line x1="65.5" y1="1408.15" x2="767.8" y2="1408.15" stroke="#111" stroke-width="2.7" stroke-dasharray="11.2 7.92" clip-path="url(#c2)"/>
<g clip-path="url(#c2)"><text transform="translate(739.9,1399.45) scale(1,1.0)" text-anchor="middle" style="font-size:15.3px" fill="#1a1a1a" stroke="#1a1a1a" stroke-width="0.3">-1.96 SD</text></g>
<g clip-path="url(#c2)"><text transform="translate(739.9,1427.35) scale(1,1.0)" text-anchor="middle" style="font-size:15.3px" fill="#1a1a1a" stroke="#1a1a1a" stroke-width="0.3">-26.31</text></g>
<g stroke="#707070" fill="none">
<line x1="66" y1="1120.5" x2="768.4" y2="1120.5" stroke-width="1.7"/>
<line x1="66" y1="1516.1" x2="768.4" y2="1516.1" stroke-width="1.7"/>
<line x1="66.6" y1="1120.5" x2="66.6" y2="1516.1" stroke-width="1.3"/>
<line x1="767.8" y1="1120.5" x2="767.8" y2="1516.1" stroke-width="1.3"/>
<line x1="58.6" y1="1151.8" x2="66.6" y2="1151.8" stroke-width="1.5"/>
<line x1="58.6" y1="1207.1" x2="66.6" y2="1207.1" stroke-width="1.5"/>
<line x1="58.6" y1="1262.4" x2="66.6" y2="1262.4" stroke-width="1.5"/>
<line x1="58.6" y1="1317.7" x2="66.6" y2="1317.7" stroke-width="1.5"/>
<line x1="58.6" y1="1373" x2="66.6" y2="1373" stroke-width="1.5"/>
<line x1="58.6" y1="1428.3" x2="66.6" y2="1428.3" stroke-width="1.5"/>
<line x1="58.6" y1="1483.6" x2="66.6" y2="1483.6" stroke-width="1.5"/>
<line x1="124.2" y1="1516.1" x2="124.2" y2="1523.6" stroke-width="1.2"/>
<line x1="324.55" y1="1516.1" x2="324.55" y2="1523.6" stroke-width="1.2"/>
<line x1="524.9" y1="1516.1" x2="524.9" y2="1523.6" stroke-width="1.2"/>
<line x1="725.25" y1="1516.1" x2="725.25" y2="1523.6" stroke-width="1.2"/>
</g>
<text transform="translate(48.1,1151.8) rotate(-90) scale(0.96,1.08)" text-anchor="middle" style="font-size:17.9px" fill="#1a1a1a" stroke="#1a1a1a" stroke-width="0.3">20</text>
<text transform="translate(48.1,1207.1) rotate(-90) scale(0.96,1.08)" text-anchor="middle" style="font-size:17.9px" fill="#1a1a1a" stroke="#1a1a1a" stroke-width="0.3">10</text>
<text transform="translate(48.1,1262.4) rotate(-90) scale(0.96,1.08)" text-anchor="middle" style="font-size:17.9px" fill="#1a1a1a" stroke="#1a1a1a" stroke-width="0.3">0</text>
<text transform="translate(48.1,1317.7) rotate(-90) scale(0.96,1.08)" text-anchor="middle" style="font-size:17.9px" fill="#1a1a1a" stroke="#1a1a1a" stroke-width="0.3">-10</text>
<text transform="translate(48.1,1373) rotate(-90) scale(0.96,1.08)" text-anchor="middle" style="font-size:17.9px" fill="#1a1a1a" stroke="#1a1a1a" stroke-width="0.3">-20</text>
<text transform="translate(48.1,1428.3) rotate(-90) scale(0.96,1.08)" text-anchor="middle" style="font-size:17.9px" fill="#1a1a1a" stroke="#1a1a1a" stroke-width="0.3">-30</text>
<text transform="translate(48.1,1483.6) rotate(-90) scale(0.96,1.08)" text-anchor="middle" style="font-size:17.9px" fill="#1a1a1a" stroke="#1a1a1a" stroke-width="0.3">-40</text>
<text transform="translate(124.2,1542) scale(1,0.96)" text-anchor="middle" style="font-size:18.7px" fill="#1a1a1a" stroke="#1a1a1a" stroke-width="0.3">50</text>
<text transform="translate(324.55,1542) scale(1,0.96)" text-anchor="middle" style="font-size:18.7px" fill="#1a1a1a" stroke="#1a1a1a" stroke-width="0.3">100</text>
<text transform="translate(524.9,1542) scale(1,0.96)" text-anchor="middle" style="font-size:18.7px" fill="#1a1a1a" stroke="#1a1a1a" stroke-width="0.3">150</text>
<text transform="translate(725.25,1542) scale(1,0.96)" text-anchor="middle" style="font-size:18.7px" fill="#1a1a1a" stroke="#1a1a1a" stroke-width="0.3">200</text>
<text transform="translate(417.2,1571.4) scale(0.986,0.96)" text-anchor="middle" style="font-size:19.2px" fill="#1a1a1a" stroke="#1a1a1a" stroke-width="0.3">Average values (month)</text>
<text transform="translate(17,1318.3) rotate(-90) scale(0.947,1)" text-anchor="middle" style="font-size:19px" fill="#1a1a1a" stroke="#1a1a1a" stroke-width="0.3">Differences (month)</text>
</g>
</svg></body></html>
